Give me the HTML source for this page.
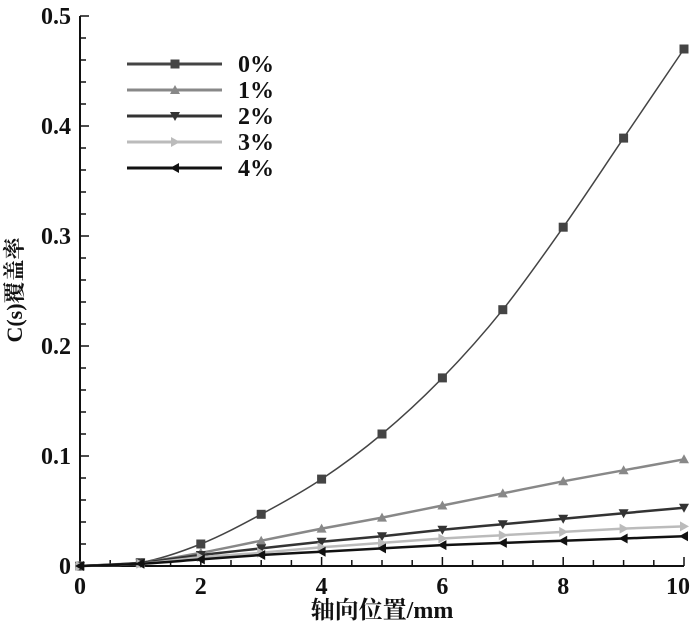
<!DOCTYPE html>
<html><head><meta charset="utf-8"><style>
body{margin:0;background:#fff}
svg{display:block}
text{font-family:"Liberation Serif","Noto Serif CJK SC",serif;font-weight:bold;fill:#111}
</style></head><body>
<svg id="chart" width="700" height="629"></svg>
<script>
const xCats=[0,1,2,3,4,5,6,7,8,9,10];
const s0=[0,0.003,0.02,0.047,0.079,0.12,0.171,0.233,0.308,0.389,0.47];
const s1=[0,0.003,0.012,0.023,0.034,0.044,0.055,0.066,0.077,0.087,0.097];
const s2=[0,0.003,0.010,0.016,0.022,0.027,0.033,0.038,0.043,0.048,0.053];
const s3=[0,0.002,0.008,0.012,0.017,0.021,0.025,0.028,0.031,0.034,0.036];
const s4=[0,0.002,0.006,0.010,0.013,0.016,0.019,0.021,0.023,0.025,0.027];
const seriesNames=["0%","1%","2%","3%","4%"];
const xTicks=[0,2,4,6,8,10];
const yTicks=[0,0.1,0.2,0.3,0.4,0.5];
const yTickLabels=["0","0.1","0.2","0.3","0.4","0.5"];

const NS="http://www.w3.org/2000/svg";
const svg=document.getElementById('chart');
const X0=80,X1=684,Y0=566,Y1=16;
const xs=v=>X0+(v-0)/10*(X1-X0);
const ys=v=>Y0-(v/0.5)*(Y0-Y1);
function mk(tag,attrs,parent){const e=document.createElementNS(NS,tag);for(const k in attrs)e.setAttribute(k,attrs[k]);(parent||svg).appendChild(e);return e;}

let ax=mk('path',{d:`M${X0} ${Y1}V${Y0}H${X1}`,stroke:'#111','stroke-width':2,fill:'none'});


for(let v=0;v<=0.5001;v+=0.02){const y=ys(v);const maj=Math.abs(v*10-Math.round(v*10))<1e-6;
 let t=mk('line',{x1:X0,x2:X0+(maj?9:6),y1:y,y2:y,stroke:'#111','stroke-width':1.5});
 
 }
for(let v=0;v<=10.001;v+=0.5){const x=xs(v);const maj=Math.abs(v/2-Math.round(v/2))<1e-6;
 let t=mk('line',{x1:x,x2:x,y1:Y0,y2:Y0-(maj?9:6),stroke:'#111','stroke-width':1.5});
 
 }
yTicks.forEach((v,i)=>{let t=mk('text',{x:X0-9,y:ys(v)+8,'text-anchor':'end','font-size':24});t.textContent=yTickLabels[i];
 
 });
xTicks.forEach(v=>{let t=mk('text',{x:xs(v)-(v===10?6:0),y:Y0+28,'text-anchor':'middle','font-size':24});t.textContent=String(v);
 
 });
let xt=mk('text',{x:382,y:618,'text-anchor':'middle','font-size':24});xt.textContent='轴向位置/mm';


let yt=mk('text',{x:0,y:0,'text-anchor':'middle','font-size':22,transform:'translate(22,290) rotate(-90)'});yt.textContent='C(s)覆盖率';



const colors=['#444','#888','#333','#bbb','#111'];
const data=[s0,s1,s2,s3,s4];
function marker(k,x,y,c,g){
 let m;
 if(k===0)m=mk('rect',{x:x-4.5,y:y-4.5,width:9,height:9,fill:c},g);
 else if(k===1)m=mk('path',{d:`M${x} ${y-5}L${x+5} ${y+4}L${x-5} ${y+4}Z`,fill:c},g);
 else if(k===2)m=mk('path',{d:`M${x} ${y+5}L${x+5} ${y-4}L${x-5} ${y-4}Z`,fill:c},g);
 else if(k===3)m=mk('path',{d:`M${x+5} ${y}L${x-4} ${y-5}L${x-4} ${y+5}Z`,fill:c},g);
 else m=mk('path',{d:`M${x-5} ${y}L${x+4} ${y-5}L${x+4} ${y+5}Z`,fill:c},g);
 
 
}
function smooth(p){let d=`M${p[0][0]} ${p[0][1]}`;
 for(let i=0;i<p.length-1;i++){const a=p[i-1]||p[i],b=p[i],c=p[i+1],e=p[i+2]||c;
  d+=`C${b[0]+(c[0]-a[0])/6} ${b[1]+(c[1]-a[1])/6} ${c[0]-(e[0]-b[0])/6} ${c[1]-(e[1]-b[1])/6} ${c[0]} ${c[1]}`;}
 return d;}
data.forEach((arr,k)=>{
 const g=mk('g',{});
 
 
 const pts=arr.map((v,i)=>[xs(xCats[i]),ys(v)]);
 let pl=mk('path',{d:smooth(pts),fill:'none',stroke:colors[k],'stroke-width':k===0?1.5:2.5},g);
 
 
 arr.forEach((v,i)=>marker(k,xs(xCats[i]),ys(v),colors[k],g));
 const ly=64+k*26;
 const lg=mk('g',{});
 
 
 mk('line',{x1:127,x2:222,y1:ly,y2:ly,stroke:colors[k],'stroke-width':3},lg);
 marker(k,175,ly,colors[k],lg);
 let lt=mk('text',{x:238,y:ly+8,'font-size':24},lg);lt.textContent=seriesNames[k];
});
</script>
</body></html>
